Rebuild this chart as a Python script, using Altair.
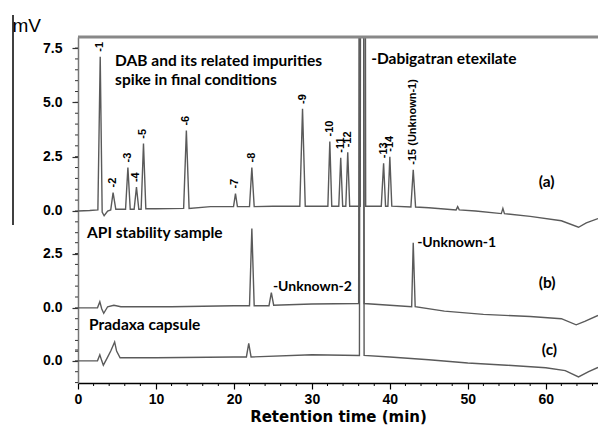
import altair as alt
import pandas as pd

# ---- chromatogram vertices (retention time [min], signal [mV]) ----
trace_a = [(0, 0.0), (1.5, 0.02), (2.55, 0.05), (2.85, 7.1), (3.1, -0.05), (3.35, -0.22),
           (3.8, 0.0), (4.2, 0.05), (4.5, 0.85), (4.85, 0.08), (6.1, 0.08), (6.4, 2.0),
           (6.7, 0.08), (7.2, 0.08), (7.5, 1.1), (7.8, 0.08), (8.1, 0.08), (8.4, 3.1),
           (8.7, 0.1), (10.0, 0.1), (13.55, 0.12), (13.9, 3.7), (14.25, 0.12), (17.0, 0.2),
           (19.95, 0.2), (20.2, 0.8), (20.45, 0.2), (22.0, 0.2), (22.3, 2.0), (22.6, 0.2),
           (25.0, 0.22), (28.45, 0.22), (28.8, 4.7), (29.15, 0.22), (32.05, 0.22), (32.3, 3.2),
           (32.55, 0.22), (33.45, 0.22), (33.7, 2.45), (33.95, 0.22), (34.35, 0.22), (34.6, 2.7),
           (34.85, 0.22), (36.2, 0.22), (36.35, 40.0), (36.75, 40.0), (36.9, 0.22), (38.9, 0.22),
           (39.2, 2.2), (39.45, 0.22), (39.75, 0.22), (40.0, 2.5), (40.25, 0.22), (42.7, 0.18),
           (43.0, 1.9), (43.3, 0.18), (45.0, 0.15), (48.5, 0.05), (48.7, 0.2), (48.9, 0.05),
           (51.0, 0.0), (54.3, -0.12), (54.5, 0.12), (54.7, -0.12), (58.0, -0.25), (62.0, -0.45),
           (64.2, -0.75), (65.2, -0.55), (66.7, -0.35)]

trace_b = [(0, 0.0), (2.5, 0.0), (2.8, 0.28), (3.05, -0.05), (3.3, -0.25), (3.8, 0.05),
           (4.6, 0.12), (5.5, 0.05), (12.0, 0.05), (20.0, 0.1), (22.0, 0.1), (22.3, 3.65),
           (22.6, 0.1), (24.5, 0.1), (24.8, 0.7), (25.1, 0.12), (30.0, 0.18), (36.0, 0.2),
           (36.15, 40.0), (36.55, 40.0), (36.7, 0.2), (40.0, 0.12), (42.8, 0.05), (43.0, 3.0),
           (43.25, 0.05), (47.0, -0.15), (52.0, -0.3), (58.0, -0.4), (62.0, -0.5),
           (63.9, -0.78), (65.0, -0.62), (66.7, -0.35)]

trace_c = [(0, 0.0), (2.5, 0.0), (2.8, 0.28), (3.05, 0.0), (3.25, -0.2), (3.7, 0.1),
           (4.2, 0.45), (4.7, 0.87), (4.95, 0.45), (5.4, 0.14), (10.0, 0.14), (20.0, 0.18),
           (21.6, 0.18), (21.9, 0.8), (22.2, 0.18), (30.0, 0.28), (36.1, 0.25), (36.25, 40.0),
           (36.55, 40.0), (36.7, 0.25), (40.0, 0.18), (45.0, 0.05), (50.0, -0.1), (55.0, -0.2),
           (60.0, -0.32), (62.5, -0.45), (64.2, -0.74), (65.5, -0.5), (66.7, -0.3)]

trace_names = ["a", "b", "c"]
trace_offsets = [0.0, -4.46, -6.90]   # vertical stacking of the three chromatograms

# ---- peak labels on trace (a) ----
peak_labels = ["-1", "-2", "-3", "-4", "-5", "-6", "-7", "-8", "-9", "-10", "-11", "-12",
               "-13", "-14", "-15 (Unknown-1)"]
peak_times = [2.85, 4.5, 6.4, 7.5, 8.4, 13.9, 20.2, 22.3, 28.8, 32.3, 33.7, 34.6, 39.2, 40.0, 43.0]
peak_heights = [7.1, 0.85, 2.0, 1.1, 3.1, 3.7, 0.8, 2.0, 4.7, 3.2, 2.45, 2.7, 2.2, 2.5, 1.9]

# ---- annotations ----
bold_text = ["DAB and its related impurities", "spike in final conditions", "-Dabigatran etexilate",
             "API stability sample", "Pradaxa capsule", "(a)", "(b)", "(c)"]
bold_x = [4.76, 4.76, 37.6, 1.16, 1.42, 59.1, 59.1, 59.5]
bold_y = [6.90, 6.03, 7.00, -1.01, -5.25, 1.33, -3.31, -6.40]
plain_text = ["-Unknown-2", "-Unknown-1"]
plain_x = [25.0, 43.5]
plain_y = [-3.50, -1.47]

x_major = [0, 10, 20, 30, 40, 50, 60]
x_max = 66.7
y_min, y_max = -7.92, 8.01

rows = []
for name, off, pts in zip(trace_names, trace_offsets, [trace_a, trace_b, trace_c]):
    for i, (t, v) in enumerate(pts):
        rows.append({"trace": name, "order": i, "time": t, "mv": v + off})
df = pd.DataFrame(rows)

peaks_df = pd.DataFrame({"label": peak_labels, "time": peak_times, "mv": peak_heights})
bold_df = pd.DataFrame({"text": bold_text, "time": bold_x, "mv": bold_y})
plain_df = pd.DataFrame({"text": plain_text, "time": plain_x, "mv": plain_y})

y_major = [7.5, 5.0, 2.5, 0.0, trace_offsets[1] + 2.5, trace_offsets[1], trace_offsets[2]]
y_minor = ([k * 0.5 for k in range(-2, 16)]
           + [trace_offsets[1] + k * 0.5 for k in range(-4, 7)]
           + [trace_offsets[2] + k * 0.5 for k in range(-2, 2)])
y_minor_df = pd.DataFrame({"mv": [v for v in y_minor if y_min < v < y_max]})
x_minor_df = pd.DataFrame({"time": [t for t in range(2, 67, 2) if t % 10 != 0]})

W, H = 520, 346
xs = alt.Scale(domain=[0, x_max], nice=False, zero=False)
ys = alt.Scale(domain=[y_min, y_max], nice=False, zero=False)

x_axis = alt.Axis(values=x_major, format="d", labelOverlap=False,
                  labelFont="Liberation Sans", labelFontWeight="bold", labelFontSize=14,
                  labelColor="black", labelPadding=3, labelFlush=False,
                  tickColor="black", tickSize=6, tickWidth=1.2,
                  domainColor="black", domainWidth=1.5, grid=False,
                  title="Retention time (min)", titleFont="DejaVu Sans", titleFontSize=15,
                  titleFontWeight="bold", titleColor="black", titlePadding=3)
y_axis = alt.Axis(values=y_major,
                  labelExpr="datum.value > -1 ? format(datum.value, '.1f') : (datum.value > -3 ? '2.5' : '0.0')",
                  labelOverlap=False,
                  labelFont="Liberation Sans", labelFontWeight="bold", labelFontSize=14,
                  labelColor="black", labelPadding=10, labelFlush=False,
                  tickColor="#333333", tickSize=6, tickWidth=1.2,
                  domainColor="#777777", domainWidth=1.5, grid=False,
                  title="mV", titleAngle=0, titleX=-66, titleY=-12, titleAlign="left",
                  titleBaseline="middle", titleFont="Liberation Sans", titleFontWeight="normal",
                  titleFontSize=19, titleColor="black")


def X():
    return alt.X("time:Q", scale=xs, axis=x_axis)


def Y():
    return alt.Y("mv:Q", scale=ys, axis=y_axis)


lines = alt.Chart(df).mark_line(color="#5a5a5a", strokeWidth=1.4, clip=True).encode(
    x=X(), y=Y(), detail="trace:N", order="order:Q")

y_minor_ticks = alt.Chart(y_minor_df).mark_rule(color="#333333", strokeWidth=1).encode(
    x=alt.value(-3), x2=alt.value(0), y=Y())

x_minor_ticks = alt.Chart(x_minor_df).mark_rule(color="black", strokeWidth=1).encode(
    x=X(), y=alt.value(H), y2=alt.value(H + 3))

peak_text = alt.Chart(peaks_df).mark_text(
    angle=270, align="left", baseline="middle", dx=5,
    font="Liberation Sans", fontWeight="bold", fontSize=11, color="black"
).encode(x=X(), y=Y(), text="label:N")

bold_ann = alt.Chart(bold_df).mark_text(
    align="left", baseline="middle", font="Lato", fontWeight="bold", fontSize=15.5, color="black"
).encode(x=X(), y=Y(), text="text:N")

plain_ann = alt.Chart(plain_df).mark_text(
    align="left", baseline="middle", font="Lato", fontWeight="bold", fontSize=14, color="black"
).encode(x=X(), y=Y(), text="text:N")

one = pd.DataFrame({"k": [0]})
top_line = alt.Chart(one).mark_rule(color="#888888", strokeWidth=3).encode(
    x=alt.value(0), x2=alt.value(W), y=alt.value(0))
stray_line = alt.Chart(one).mark_rule(color="black", strokeWidth=1.5).encode(
    x=alt.value(-65), y=alt.value(-22), y2=alt.value(188))

chart = alt.layer(lines, y_minor_ticks, x_minor_ticks, peak_text, bold_ann, plain_ann,
                  top_line, stray_line).properties(
    width=W, height=H,
    autosize=alt.AutoSizeParams(type="none"),
    padding={"left": 70, "top": 29, "right": 0, "bottom": 44},
    background="white",
).configure_view(stroke=None)

chart.save("out.html", embed_options={"renderer": "svg", "actions": False})
